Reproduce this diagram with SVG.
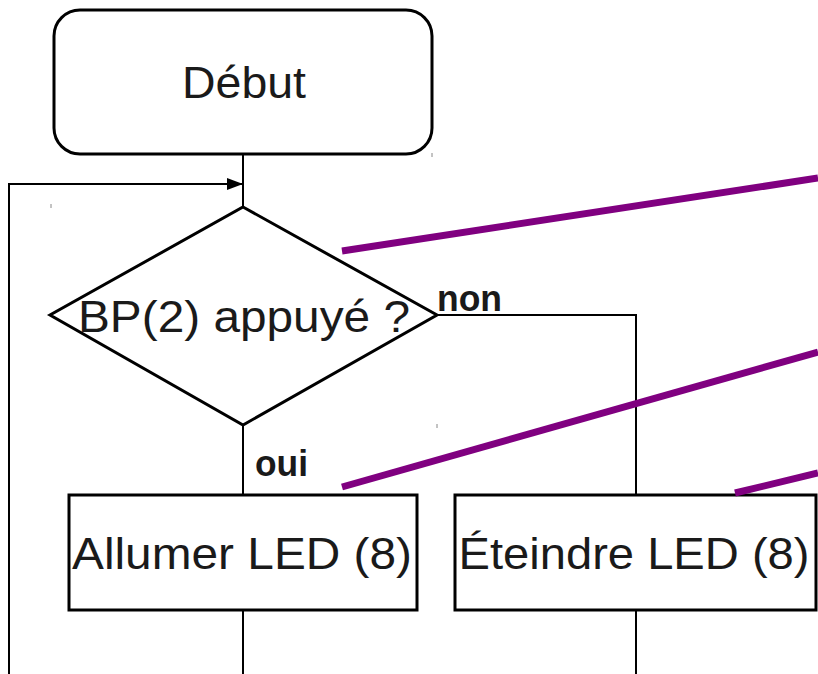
<svg xmlns="http://www.w3.org/2000/svg" width="818" height="674" viewBox="0 0 818 674">
<defs>
<style>
.shape{fill:#fff;stroke:#000;stroke-width:3}
.line{fill:none;stroke:#000;stroke-width:2}
.hl{fill:none;stroke:#800080;stroke-width:7}
.lbl{font-family:"Liberation Sans",Arial,sans-serif;font-size:44px;fill:#1a1a1a;text-anchor:middle}
.tag{font-family:"Liberation Sans",Arial,sans-serif;font-size:36px;font-weight:bold;fill:#1a1a1a}
.tick{stroke:#888;stroke-width:1}
</style>
<marker id="arr" markerWidth="16" markerHeight="12" refX="16" refY="6" orient="auto" markerUnits="userSpaceOnUse">
<path d="M0,0 L16,6 L0,12 Z" fill="#000"/>
</marker>
</defs>
<rect width="818" height="674" fill="#fff"/>
<g id="connectors">
<line class="line" x1="243" y1="154" x2="243" y2="207"/>
<polyline class="line" points="9,674 9,184 243,184" marker-end="url(#arr)"/>
<polyline class="line" points="437,315 636,315 636,495"/>
<line class="line" x1="243" y1="425" x2="243" y2="495"/>
<line class="line" x1="243" y1="610" x2="243" y2="674"/>
<line class="line" x1="636" y1="610" x2="636" y2="674"/>
<text class="tag" x="437" y="311" textLength="65" lengthAdjust="spacingAndGlyphs">non</text>
<text class="tag" x="255" y="476" textLength="53" lengthAdjust="spacingAndGlyphs">oui</text>
</g>
<g id="start">
<rect class="shape" x="54" y="10" width="378" height="144" rx="26"/>
<text class="lbl" x="244" y="98" textLength="124" lengthAdjust="spacingAndGlyphs">Début</text>
</g>
<g id="decision">
<polygon class="shape" points="243,207 437,315 243,425 50,315"/>
<text class="lbl" x="244" y="332" textLength="332" lengthAdjust="spacingAndGlyphs">BP(2) appuyé ?</text>
</g>
<g id="on">
<rect class="shape" x="69" y="495" width="348" height="115"/>
<text class="lbl" x="242" y="569" textLength="340" lengthAdjust="spacingAndGlyphs">Allumer LED (8)</text>
</g>
<g id="off">
<rect class="shape" x="455" y="495" width="361" height="115"/>
<text class="lbl" x="634" y="569" textLength="351" lengthAdjust="spacingAndGlyphs">Éteindre LED (8)</text>
</g>
<g id="highlights">
<line class="hl" x1="342" y1="251" x2="818" y2="178"/>
<line class="hl" x1="342" y1="487" x2="818" y2="352"/>
<line class="hl" x1="735" y1="493" x2="818" y2="473"/>
</g>
<g id="ticks">
<line class="tick" x1="51" y1="204" x2="51" y2="208"/>
<line class="tick" x1="437" y1="424" x2="437" y2="428"/>
<line class="tick" x1="432" y1="153" x2="432" y2="157"/>
</g>
</svg>
